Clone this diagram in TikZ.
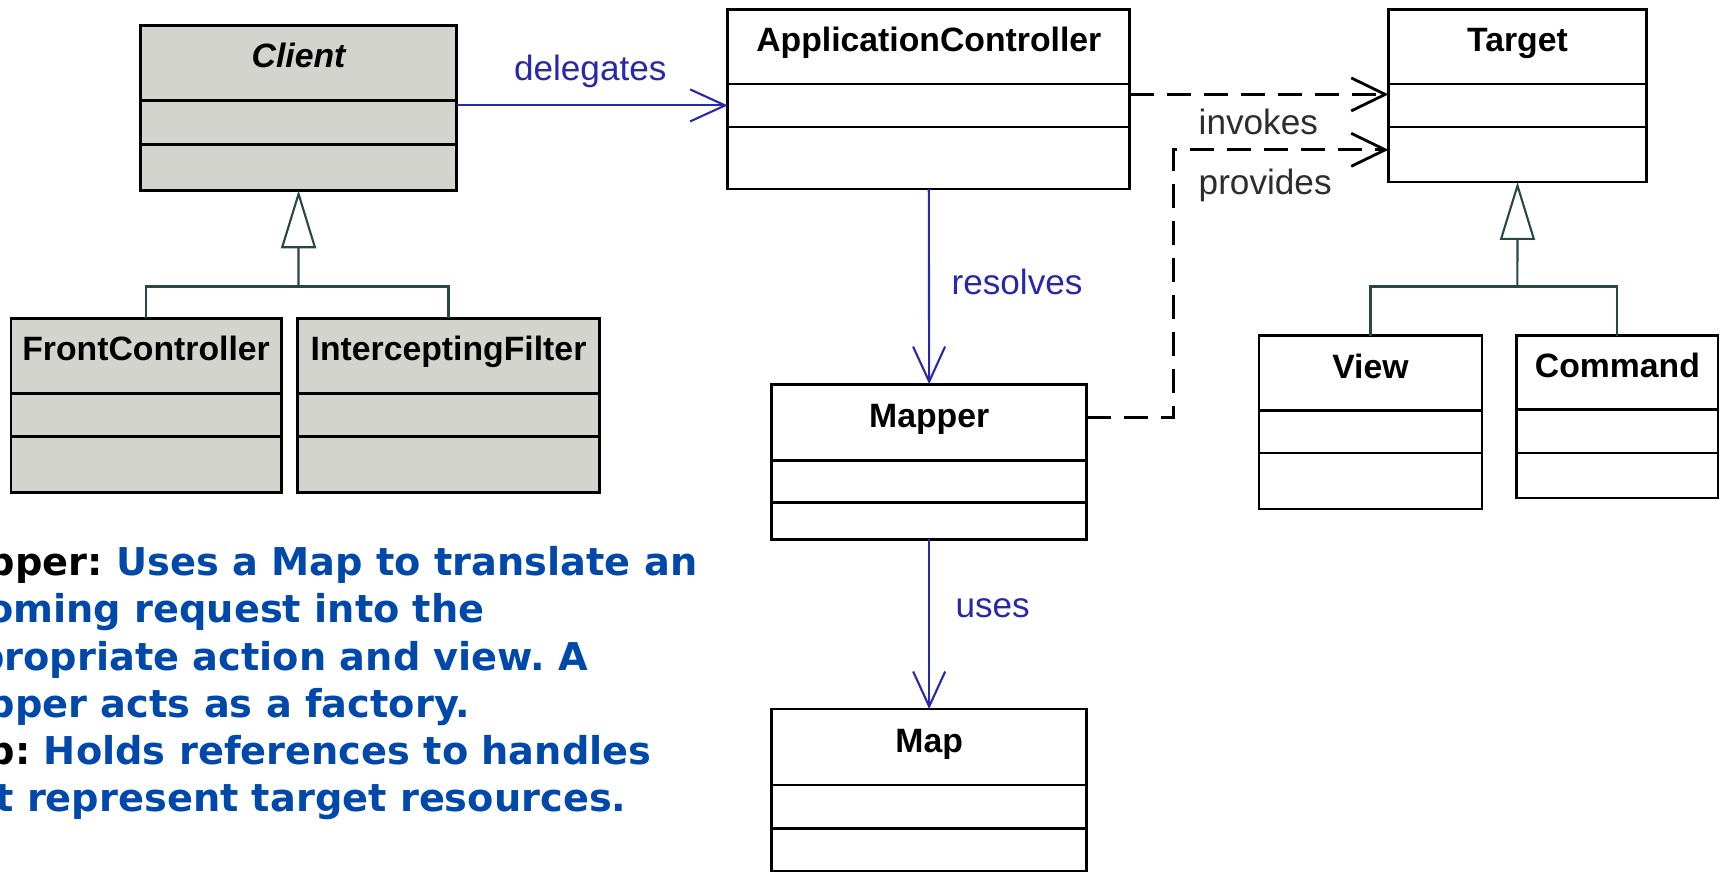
\documentclass[tikz,border=0pt]{standalone}
\usepackage{fontspec}
\usetikzlibrary{positioning,arrows.meta}
\newfontfamily\umlfont{Liberation Sans}
\newfontfamily\notefont{DejaVu Sans}
\definecolor{umlgrey}{RGB}{212,212,206}
\definecolor{linkblue}{RGB}{40,40,170}
\definecolor{noteblue}{RGB}{0,72,170}
\definecolor{genline}{RGB}{40,72,72}
\definecolor{lblgrey}{RGB}{45,45,45}
\frenchspacing

\begin{document}
\begin{tikzpicture}[
    x=0.010976cm, y=-0.010976cm,
    box/.style={draw=black, line width=0.8pt, outer sep=0pt, inner sep=0pt},
    title/.style={box, anchor=north west, text height=2.3mm, text depth=1.3mm,
        font=\umlfont\bfseries\fontsize{9.6}{11}\selectfont},
    part/.style={box},
    abstract/.style={fill=umlgrey},
    lbl/.style={inner sep=0pt, font=\umlfont\fontsize{10}{12}\selectfont},
    link/.style={draw=linkblue, line width=0.6pt,
        -{Straight Barb[length=3.5mm, width=3.2mm]}},
    dep/.style={draw=black, line width=0.8pt, dash pattern=on 2.4mm off 1.3mm,
        -{Straight Barb[length=3.4mm, width=3.3mm]}},
    gen/.style={draw=genline, line width=0.6pt},
    inherit/.style={gen, -{Triangle[open, length=5.8mm, width=3.5mm]}},
    note/.style={anchor=north west, inner sep=0pt, align=left, text=noteblue,
        font=\notefont\bfseries\fontsize{10.9}{13.4}\selectfont}
]
    \clip (0,0) rectangle (1568,794);

    % client side
    \node[title, abstract, minimum width=3.16cm, minimum height=0.75cm] (client) at (128,23) {\itshape Client};
    \node[part, abstract, minimum width=3.16cm, minimum height=0.44cm, below=0pt of client] (client-a) {};
    \node[part, abstract, minimum width=3.16cm, minimum height=0.46cm, below=0pt of client-a] (client-o) {};
    \node[title, abstract, minimum width=2.70cm, minimum height=0.75cm] (front) at (10,290) {FrontController};
    \node[part, abstract, minimum width=2.70cm, minimum height=0.43cm, below=0pt of front] (front-a) {};
    \node[part, abstract, minimum width=2.70cm, minimum height=0.56cm, below=0pt of front-a] (front-o) {};
    \node[title, abstract, minimum width=3.02cm, minimum height=0.75cm] (filter) at (271,290) {InterceptingFilter};
    \node[part, abstract, minimum width=3.02cm, minimum height=0.43cm, below=0pt of filter] (filter-a) {};
    \node[part, abstract, minimum width=3.02cm, minimum height=0.56cm, below=0pt of filter-a] (filter-o) {};

    % controller, mapper, map
    \node[title, minimum width=4.02cm, minimum height=0.74cm] (app) at (663,9) {ApplicationController};
    \node[part, minimum width=4.02cm, minimum height=0.43cm, below=0pt of app] (app-a) {};
    \node[part, minimum width=4.02cm, minimum height=0.62cm, below=0pt of app-a] (app-o) {};
    \node[title, minimum width=3.15cm, minimum height=0.76cm] (mapper) at (703,350) {Mapper};
    \node[part, minimum width=3.15cm, minimum height=0.42cm, below=0pt of mapper] (mapper-a) {};
    \node[part, minimum width=3.15cm, minimum height=0.37cm, below=0pt of mapper-a] (mapper-o) {};
    \node[title, minimum width=3.15cm, minimum height=0.76cm] (map) at (703,646) {Map};
    \node[part, minimum width=3.15cm, minimum height=0.43cm, below=0pt of map] (map-a) {};
    \node[part, minimum width=3.15cm, minimum height=0.43cm, below=0pt of map-a] (map-o) {};

    % targets
    \node[title, minimum width=2.58cm, minimum height=0.74cm] (target) at (1265,9) {Target};
    \node[part, minimum width=2.58cm, minimum height=0.43cm, below=0pt of target] (target-a) {};
    \node[part, minimum width=2.58cm, minimum height=0.55cm, below=0pt of target-a] (target-o) {};
    \node[title, minimum width=2.23cm, minimum height=0.75cm] (view) at (1147,306) {View};
    \node[part, minimum width=2.23cm, minimum height=0.42cm, below=0pt of view] (view-a) {};
    \node[part, minimum width=2.23cm, minimum height=0.56cm, below=0pt of view-a] (view-o) {};
    \node[title, minimum width=2.01cm, minimum height=0.74cm] (command) at (1382,306) {Command};
    \node[part, minimum width=2.01cm, minimum height=0.43cm, below=0pt of command] (command-a) {};
    \node[part, minimum width=2.01cm, minimum height=0.45cm, below=0pt of command-a] (command-o) {};

    % inheritance
    \coordinate (cjoin) at (272,261);
    \coordinate (tjoin) at (1382.5,261);
    \draw[gen] (front.north) |- (cjoin) -| (filter.north);
    \draw[inherit] (cjoin) -- (client-o.south);
    \draw[gen] (view.north) |- (tjoin) -| (command.north);
    \draw[inherit] (tjoin) -- (target-o.south);

    % associations
    \draw[link] (client-a.east |- app-a.west) -- (app-a.west);
    \draw[link] (app-o.south) -- (mapper.north);
    \draw[link] (mapper-o.south) -- (map.north);
    \draw[dep] ([yshift=1.1mm]app-a.east) -- ([yshift=1.1mm]target-a.west);
    \coordinate (pturn) at (1069,136.5);
    \draw[dep] ([yshift=0.5mm]mapper.east) -| (pturn) -- (pturn -| target-o.west);

    \node[lbl, text=linkblue] (delegates) at (537.8,65.3) {delegates};
    \node[lbl, text=linkblue] (resolves) at (926.6,257) {resolves};
    \node[lbl, text=linkblue] (uses) at (904.4,554.3) {uses};
    \node[lbl, text=lblgrey, anchor=west] (invokes) at (1091.5,111) {invokes};
    \node[lbl, text=lblgrey, anchor=west] (provides) at (1091.5,168.5) {provides};

    \node[note] (notes) at (-70,497.4) {\textcolor{black}{Mapper:} Uses a Map to translate an\\
        incoming request into the\\
        appropriate action and view. A\\
        Mapper acts as a factory.\\
        \textcolor{black}{Map:} Holds references to handles\\
        that represent target resources.};
\end{tikzpicture}
\end{document}
